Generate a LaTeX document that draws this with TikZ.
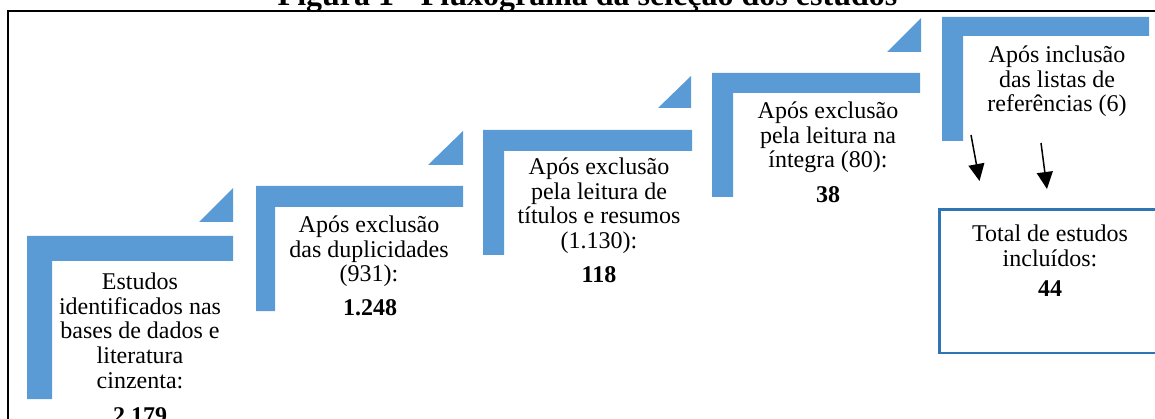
\documentclass[tikz,border=0pt]{standalone}
\usepackage{fontspec}
\setmainfont{Liberation Serif}
\usetikzlibrary{arrows.meta}
\definecolor{stepblue}{RGB}{91,155,213}
\definecolor{boxblue}{RGB}{46,117,182}
\newcommand{\stepblock}[1]{\begin{tabular}[t]{@{}c@{}}#1\end{tabular}}
\begin{document}
\begin{tikzpicture}[x=1pt,y=-1pt,
  txt/.style={font=\fontsize{24}{24.5}\selectfont, inner sep=0pt, anchor=base},
  num/.style={font=\fontsize{24}{24.5}\selectfont\bfseries, inner sep=0pt, anchor=base},
  stepfill/.style={fill=stepblue, draw=none},
  arr/.style={line width=1.5pt, -{Triangle[length=17pt,width=16pt]}}]
\useasboundingbox (0,0) rectangle (1155,419);
\clip (0,0) rectangle (1155,419);
% title
\node[font=\fontsize{32}{36}\selectfont\bfseries, inner sep=0pt, anchor=base] (title) at (587.5,6) {Figura 1 - Fluxograma da seleção dos estudos};
% outer frame
\draw[line width=2pt] (7.5,440) -- (7.5,11) -- (1170,11);
% step shapes
\fill[stepfill] (27,236) -- (233,236) -- (233,261) -- (52,261) -- (52,399) -- (27,399) -- cycle;
\fill[stepfill] (233,188) -- (233,222) -- (199,222) -- cycle;
\fill[stepfill] (256,186) -- (463,186) -- (463,207) -- (275,207) -- (275,311) -- (256,311) -- cycle;
\fill[stepfill] (463,131) -- (463,165) -- (428,165) -- cycle;
\fill[stepfill] (483,130) -- (692,130) -- (692,151) -- (504,151) -- (504,255) -- (483,255) -- cycle;
\fill[stepfill] (691,76) -- (691,108) -- (658,108) -- cycle;
\fill[stepfill] (712,73) -- (920,73) -- (920,93) -- (733,93) -- (733,197) -- (712,197) -- cycle;
\fill[stepfill] (921,18) -- (921,52) -- (887,52) -- cycle;
\fill[stepfill] (942,17) -- (1149,17) -- (1149,36) -- (963,36) -- (963,141) -- (942,141) -- cycle;
% final box
\draw[draw=boxblue, line width=2.5pt] (1175,209.5) -- (939.5,209.5) -- (939.5,353) -- (1175,353);
% texts
\node[txt] (t1) at (140,290) {\stepblock{Estudos\\identificados nas\\bases de dados e\\literatura\\cinzenta:}};
\node[num] (n1) at (140,423) {2.179};
\node[txt] (t2) at (369,233) {\stepblock{Após exclusão\\das duplicidades\\(931):}};
\node[num] (n2) at (370,315) {1.248};
\node[txt] (t3) at (599,175) {\stepblock{Após exclusão\\pela leitura de\\títulos e resumos\\(1.130):}};
\node[num] (n3) at (599,283) {118};
\node[txt] (t4) at (828,119) {\stepblock{Após exclusão\\pela leitura na\\íntegra (80):}};
\node[num] (n4) at (828,203) {38};
\node[txt] (t5) at (1057,63) {\stepblock{Após inclusão\\das listas de\\referências (6)}};
\node[txt] (t6) at (1050,242) {\stepblock{Total de estudos\\incluídos:}};
\node[num] (n6) at (1050,297) {44};
% arrows
\coordinate (a1s) at (971,135);
\coordinate (a1e) at (979.5,181);
\coordinate (a2s) at (1041,143);
\coordinate (a2e) at (1047,189);
\draw[arr] (a1s) -- (a1e);
\draw[arr] (a2s) -- (a2e);
\end{tikzpicture}
\end{document}
